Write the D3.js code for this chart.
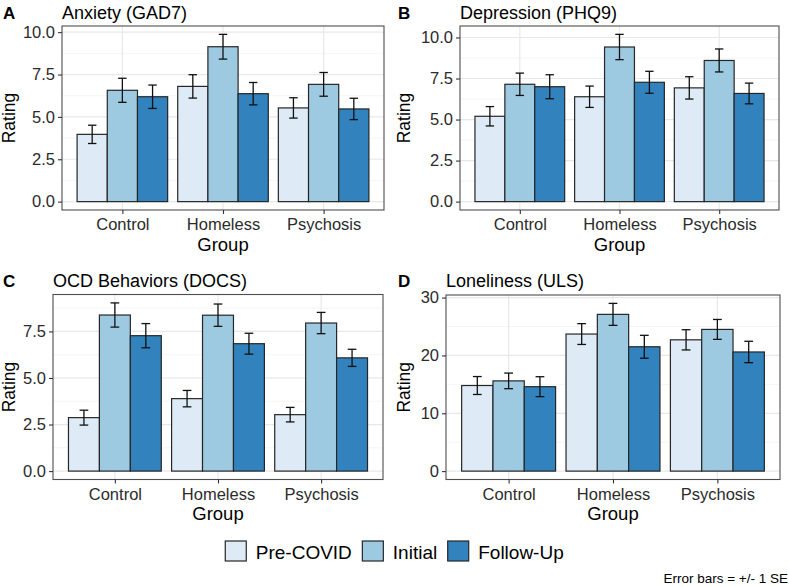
<!DOCTYPE html>
<html>
<head>
<meta charset="utf-8">
<script src="https://cdn.jsdelivr.net/npm/d3@7"></script>
<style>
  body { margin: 0; background: #fff; }
  svg { font-family: "Liberation Sans", Arial, Helvetica, sans-serif; }
</style>
</head>
<body>
<svg id="chart" width="789" height="587"></svg>
<script>
var groups = ['Control', 'Homeless', 'Psychosis'];
var phases = ['Pre-COVID', 'Initial', 'Follow-Up'];
var colors = ['#DEEBF7', '#9ECAE1', '#3182BD'];

// means [group][phase], SE [group][phase]
var anxietyMean = [[3.97, 6.57, 6.19], [6.80, 9.14, 6.37], [5.53, 6.92, 5.47]];
var anxietySE   = [[0.54, 0.71, 0.69], [0.69, 0.73, 0.66], [0.60, 0.70, 0.63]];
var depressionMean = [[5.20, 7.15, 7.00], [6.39, 9.42, 7.27], [6.93, 8.60, 6.59]];
var depressionSE   = [[0.59, 0.68, 0.73], [0.65, 0.77, 0.67], [0.68, 0.70, 0.63]];
var ocdMean = [[2.87, 8.38, 7.27], [3.89, 8.37, 6.84], [3.03, 7.95, 6.08]];
var ocdSE   = [[0.40, 0.65, 0.65], [0.44, 0.60, 0.56], [0.39, 0.57, 0.46]];
var lonelyMean = [[14.8, 15.6, 14.6], [23.7, 27.1, 21.5], [22.7, 24.5, 20.6]];
var lonelySE   = [[1.55, 1.35, 1.72], [1.80, 1.90, 1.98], [1.75, 1.72, 1.85]];

var titles = ['Anxiety (GAD7)', 'Depression (PHQ9)', 'OCD Behaviors (DOCS)', 'Loneliness (ULS)'];
var letters = ['A', 'B', 'C', 'D'];
var anxietyTicks = [0, 2.5, 5, 7.5, 10];
var depressionTicks = [0, 2.5, 5, 7.5, 10];
var ocdTicks = [0, 2.5, 5, 7.5];
var lonelyTicks = [0, 10, 20, 30];

// panel boxes: left, right, top, bottom, column origin
var panels = [
    {mean: anxietyMean, se: anxietySE, ticks: anxietyTicks, fmt: '.1f', l: 62, r: 384, t: 26, b: 210, ox: 0, oy: 0},
    {mean: depressionMean, se: depressionSE, ticks: depressionTicks, fmt: '.1f', l: 460, r: 779, t: 26, b: 210, ox: 395, oy: 0},
    {mean: ocdMean, se: ocdSE, ticks: ocdTicks, fmt: '.1f', l: 53, r: 383, t: 294.5, b: 479.5, ox: 0, oy: 268},
    {mean: lonelyMean, se: lonelySE, ticks: lonelyTicks, fmt: 'd', l: 446, r: 780, t: 295, b: 479.5, ox: 395, oy: 268}
];

var svg = d3.select('#chart');

panels.forEach(function(p, k) {
    var rows = [];
    groups.forEach(function(g, i) {
        phases.forEach(function(ph, j) {
            rows.push({group: g, phase: ph, j: j, m: p.mean[i][j], se: p.se[i][j]});
        });
    });
    var top = d3.max(rows, d => d.m + d.se);
    var y = d3.scaleLinear().domain([-0.05 * top, top * 1.05]).range([p.b, p.t]);
    var x = d3.scalePoint().domain(groups).range([p.l, p.r]).padding(0.6);
    var step = x.step();
    var xin = d3.scaleBand().domain(phases).range([-0.45 * step, 0.45 * step]);

    var g = svg.append('g');

    g.append('rect')
        .attr('x', p.l).attr('y', p.t)
        .attr('width', p.r - p.l).attr('height', p.b - p.t)
        .attr('fill', '#fff');

    // minor grid
    var minor = [];
    for (var i = 0; i < p.ticks.length - 1; i++) minor.push((p.ticks[i] + p.ticks[i + 1]) / 2);
    var last = p.ticks[p.ticks.length - 1], d = p.ticks[1] - p.ticks[0];
    if (last + d / 2 < y.domain()[1]) minor.push(last + d / 2);
    g.selectAll('.minor').data(minor).enter().append('line')
        .attr('x1', p.l).attr('x2', p.r)
        .attr('y1', v => y(v)).attr('y2', v => y(v))
        .attr('stroke', '#f0f0f0').attr('stroke-width', 0.7);
    g.selectAll('.major').data(p.ticks).enter().append('line')
        .attr('x1', p.l).attr('x2', p.r)
        .attr('y1', v => y(v)).attr('y2', v => y(v))
        .attr('stroke', '#e8e8e8').attr('stroke-width', 1.2);
    g.selectAll('.vgrid').data(groups).enter().append('line')
        .attr('x1', v => x(v)).attr('x2', v => x(v))
        .attr('y1', p.t).attr('y2', p.b)
        .attr('stroke', '#e8e8e8').attr('stroke-width', 1.2);

    // bars
    g.selectAll('.bar').data(rows).enter().append('rect')
        .attr('x', d => x(d.group) + xin(d.phase))
        .attr('y', d => y(d.m))
        .attr('width', xin.bandwidth())
        .attr('height', d => y(0) - y(d.m))
        .attr('fill', d => colors[d.j])
        .attr('stroke', '#262626')
        .attr('stroke-width', 1.2);

    // error bars
    var cap = xin.bandwidth() * 0.14;
    var eb = g.selectAll('.eb').data(rows).enter().append('g')
        .attr('transform', d => 'translate(' + (x(d.group) + xin(d.phase) + xin.bandwidth() / 2) + ',0)')
        .attr('stroke', '#111').attr('stroke-width', 1.3);
    eb.append('line').attr('x1', 0).attr('x2', 0)
        .attr('y1', d => y(d.m - d.se)).attr('y2', d => y(d.m + d.se));
    eb.append('line').attr('x1', -cap).attr('x2', cap)
        .attr('y1', d => y(d.m - d.se)).attr('y2', d => y(d.m - d.se));
    eb.append('line').attr('x1', -cap).attr('x2', cap)
        .attr('y1', d => y(d.m + d.se)).attr('y2', d => y(d.m + d.se));

    // border
    g.append('rect')
        .attr('x', p.l).attr('y', p.t)
        .attr('width', p.r - p.l).attr('height', p.b - p.t)
        .attr('fill', 'none').attr('stroke', '#4d4d4d').attr('stroke-width', 1.1);

    // axes
    var ya = g.append('g').attr('transform', 'translate(' + p.l + ',0)')
        .call(d3.axisLeft(y).tickValues(p.ticks).tickFormat(d3.format(p.fmt)).tickSize(4).tickPadding(3));
    var xa = g.append('g').attr('transform', 'translate(0,' + p.b + ')')
        .call(d3.axisBottom(x).tickSize(4).tickPadding(4.5));
    [ya, xa].forEach(function(a) {
        a.select('.domain').remove();
        a.selectAll('line').attr('stroke', '#333').attr('stroke-width', 1.1);
        a.selectAll('text').attr('fill', '#2b2b2b').style('font-size', '16.5px');
    });

    // titles
    g.append('text').attr('x', p.ox + 3).attr('y', p.oy + 18.5)
        .style('font-size', '17px').style('font-weight', 'bold').text(letters[k]);
    g.append('text').attr('x', p.l).attr('y', p.oy + 18.5)
        .style('font-size', '18px').text(titles[k]);
    g.append('text')
        .attr('transform', 'translate(' + (p.ox + 14.5) + ',' + ((p.t + p.b) / 2) + ') rotate(-90)')
        .attr('text-anchor', 'middle').style('font-size', '17.5px').text('Rating');
    g.append('text').attr('x', (p.l + p.r) / 2).attr('y', p.b + 40.5)
        .attr('text-anchor', 'middle').style('font-size', '18.5px').text('Group');
});

// legend
var leg = svg.append('g');
var cx = 0;
phases.forEach(function(ph, j) {
    leg.append('rect').attr('x', cx).attr('y', 541)
        .attr('width', 21).attr('height', 20)
        .attr('fill', colors[j]).attr('stroke', '#262626').attr('stroke-width', 1.2);
    cx += 21 + 9.5;
    var t = leg.append('text').attr('x', cx).attr('y', 558.5)
        .style('font-size', '19px').text(ph);
    cx += t.node().getComputedTextLength() + 10.5;
});
var legW = cx - 10.5;
leg.attr('transform', 'translate(' + (789 / 2 - legW / 2) + ',0)');

svg.append('text').attr('x', 788).attr('y', 582.5)
    .attr('text-anchor', 'end').style('font-size', '13.5px')
    .text('Error bars = +/- 1 SE');
</script>
</body>
</html>
